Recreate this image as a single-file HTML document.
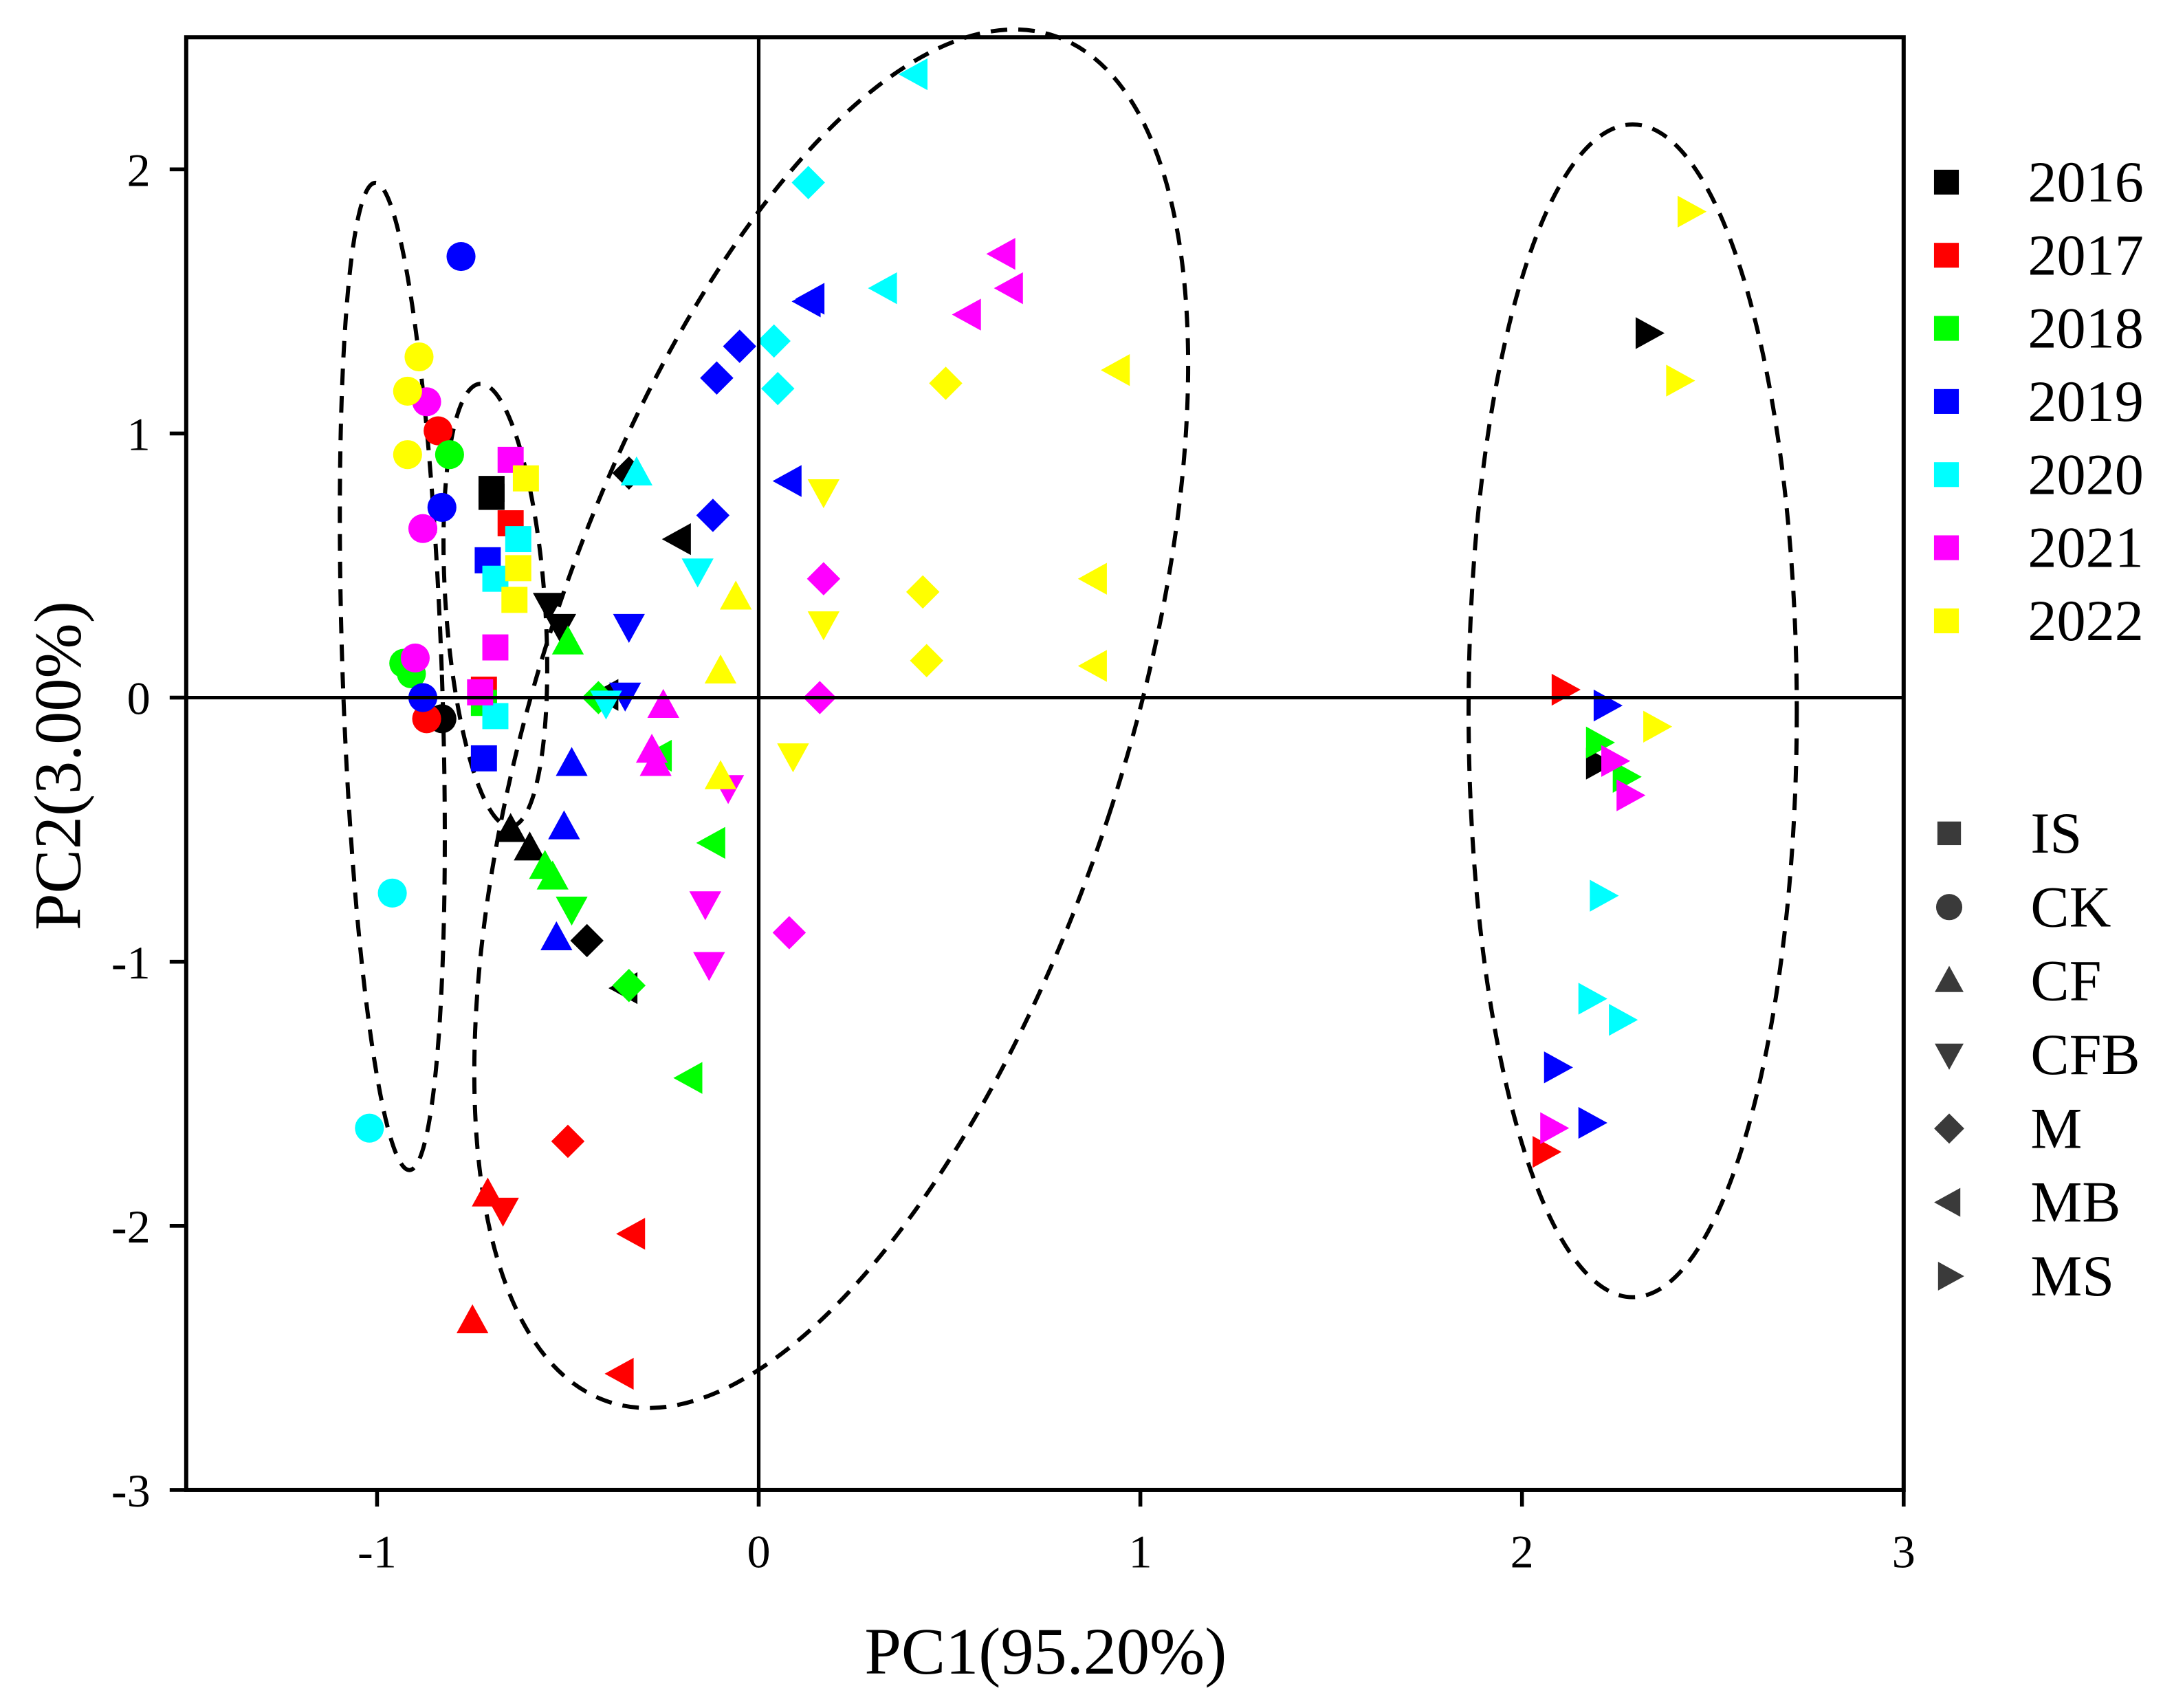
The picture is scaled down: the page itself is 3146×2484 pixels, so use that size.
<!DOCTYPE html>
<html><head><meta charset="utf-8"><style>
html,body{margin:0;padding:0;background:#fff}
svg{display:block}
text{font-family:"Liberation Serif",serif;fill:#000}
</style></head><body>
<svg id="chart" width="3146" height="2484" viewBox="0 0 1568 1238" xmlns="http://www.w3.org/2000/svg">
<g id="ell"></g>
<g id="pts"></g>
<g id="axes"></g>
<g id="legend"></g>
</svg>
<script>
const years = ["2016","2017","2018","2019","2020","2021","2022"];
const yearColors = ["#000000","#ff0000","#00ff00","#0000ff","#00ffff","#ff00ff","#ffff00"];
const treatments = ["IS","CK","CF","CFB","M","MB","MS"];
const xTicks = [-1,0,1,2,3];
const yTicks = [2,1,0,-1,-2,-3];
const pts2016 = [["IS",-0.70,0.79],["IS",-0.70,0.76],["CK",-0.83,-0.08],["CFB",-0.55,0.35],["CFB",-0.52,0.27],["CF",-0.65,-0.5],["CF",-0.60,-0.57],["M",-0.34,0.85],["M",-0.45,-0.92],["MB",-0.21,0.6],["MB",-0.35,-1.1],["MB",-0.40,0.01],["MS",2.33,1.38],["MS",2.20,-0.25]];
const pts2017 = [["IS",-0.65,0.66],["IS",-0.72,0.03],["CK",-0.84,1.01],["CK",-0.87,-0.08],["CF",-0.75,-2.36],["CF",-0.71,-1.88],["CFB",-0.67,-1.94],["M",-0.50,-1.68],["MB",-0.33,-2.03],["MB",-0.36,-2.56],["MS",2.11,0.03],["MS",2.06,-1.72]];
const pts2018 = [["IS",-0.72,-0.02],["CK",-0.81,0.92],["CK",-0.93,0.13],["CK",-0.91,0.09],["CF",-0.50,0.21],["CF",-0.56,-0.64],["CF",-0.54,-0.68],["CFB",-0.49,-0.80],["M",-0.34,-1.09],["M",-0.42,0.0],["MB",-0.18,-1.44],["MB",-0.12,-0.55],["MB",-0.26,-0.22],["MS",2.20,-0.17],["MS",2.27,-0.30]];
const pts2019 = [["CK",-0.78,1.67],["CK",-0.83,0.72],["CK",-0.88,0.0],["IS",-0.71,0.52],["IS",-0.72,-0.23],["CF",-0.49,-0.25],["CF",-0.51,-0.49],["CF",-0.53,-0.91],["CFB",-0.34,0.27],["CFB",-0.35,0.01],["M",-0.12,0.69],["M",-0.05,1.33],["M",-0.11,1.21],["MB",0.14,1.51],["MB",0.13,1.50],["MB",0.08,0.82],["MS",2.22,-0.03],["MS",2.09,-1.40],["MS",2.18,-1.61]];
const pts2020 = [["CK",-0.96,-0.74],["CK",-1.02,-1.63],["IS",-0.63,0.60],["IS",-0.69,0.45],["IS",-0.69,-0.07],["CF",-0.32,0.85],["CFB",-0.16,0.48],["CFB",-0.40,-0.02],["M",0.04,1.35],["M",0.05,1.17],["M",0.13,1.95],["MB",0.33,1.55],["MB",0.41,2.36],["MS",2.21,-0.75],["MS",2.18,-1.14],["MS",2.26,-1.22]];
const pts2021 = [["CK",-0.87,1.12],["CK",-0.88,0.64],["CK",-0.90,0.15],["IS",-0.65,0.90],["IS",-0.69,0.19],["IS",-0.73,0.02],["CF",-0.25,-0.03],["CF",-0.28,-0.20],["CF",-0.27,-0.25],["CFB",-0.14,-0.78],["CFB",-0.13,-1.01],["CFB",-0.08,-0.34],["M",0.17,0.45],["M",0.16,0.0],["M",0.08,-0.89],["MB",0.64,1.68],["MB",0.66,1.55],["MB",0.55,1.45],["MS",2.24,-0.24],["MS",2.28,-0.37],["MS",2.08,-1.63]];
const pts2022 = [["CK",-0.89,1.29],["CK",-0.92,1.16],["CK",-0.92,0.92],["IS",-0.61,0.83],["IS",-0.63,0.49],["IS",-0.64,0.37],["CF",-0.06,0.38],["CF",-0.10,0.10],["CF",-0.10,-0.30],["CFB",0.17,0.78],["CFB",0.17,0.28],["CFB",0.09,-0.22],["M",0.49,1.19],["M",0.43,0.40],["M",0.44,0.14],["MB",0.94,1.24],["MB",0.88,0.45],["MB",0.88,0.12],["MS",2.44,1.84],["MS",2.41,1.20],["MS",2.35,-0.11]];
const allYears = [pts2016,pts2017,pts2018,pts2019,pts2020,pts2021,pts2022];
const ellipses = [[-0.96,0.08,0.13,1.87,-2],[-0.69,0.35,0.13,0.84,-4],[0.19,-0.08,0.77,2.72,18],[2.29,-0.05,0.43,2.22,0]];

const NS="http://www.w3.org/2000/svg";
const L=135,R=1380,T=27,B=1080, xmin=-1.5,xmax=3,ymin=-3,ymax=2.5;
const sx=v=>L+(v-xmin)/(xmax-xmin)*(R-L);
const sy=v=>B-(v-ymin)/(ymax-ymin)*(B-T);
function mk(tag,attrs,parent){const e=document.createElementNS(NS,tag);for(const k in attrs)e.setAttribute(k,attrs[k]);parent.appendChild(e);return e;}
function marker(shape,x,y,fill,parent,s){
  s=s||10.5;let e;
  if(shape==="IS") e=mk("rect",{x:x-s*0.9,y:y-s*0.9,width:s*1.8,height:s*1.8,fill:fill},parent);
  else if(shape==="CK") e=mk("circle",{cx:x,cy:y,r:s,fill:fill},parent);
  else { let p;
    if(shape==="CF") p=[[0,-1.15],[1.1,0.85],[-1.1,0.85]];
    else if(shape==="CFB") p=[[0,1.15],[1.1,-0.85],[-1.1,-0.85]];
    else if(shape==="M") p=[[0,-1.15],[1.15,0],[0,1.15],[-1.15,0]];
    else if(shape==="MB") p=[[-1.15,0],[0.85,-1.1],[0.85,1.1]];
    else p=[[1.15,0],[-0.85,-1.1],[-0.85,1.1]];
    e=mk("polygon",{points:p.map(q=>(x+q[0]*s)+","+(y+q[1]*s)).join(" "),fill:fill},parent);}
  return e;
}
const ellG=document.getElementById("ell");
ellipses.forEach((el,i)=>{
  const cx=sx(el[0]),cy=sy(el[1]),rx=el[2]*(R-L)/(xmax-xmin),ry=el[3]*(B-T)/(ymax-ymin);
  const e=mk("ellipse",{cx:cx,cy:cy,rx:rx,ry:ry,transform:`rotate(${el[4]} ${cx} ${cy})`,fill:"none",stroke:"#000","stroke-width":3,"stroke-dasharray":"12 8"},ellG);
  
  
});
const pg=document.getElementById("pts");
allYears.forEach((arr,yi)=>{arr.forEach(p=>{
  const e=marker(p[0],sx(p[1]),sy(p[2]),yearColors[yi],pg);
  
  
});});
const ax=document.getElementById("axes");
mk("rect",{x:L,y:T,width:R-L,height:B-T,fill:"none",stroke:"#000","stroke-width":3},ax);
mk("line",{x1:sx(0),x2:sx(0),y1:T,y2:B,stroke:"#000","stroke-width":2.6},ax);
mk("line",{x1:L,x2:R,y1:sy(0),y2:sy(0),stroke:"#000","stroke-width":2.6},ax);
xTicks.forEach(v=>{
  mk("line",{x1:sx(v),x2:sx(v),y1:B,y2:B+12,stroke:"#000","stroke-width":2.8},ax);
  const t=mk("text",{x:sx(v),y:B+56,"text-anchor":"middle","font-size":34},ax);t.textContent=v;
  
});
yTicks.forEach(v=>{
  mk("line",{x1:L-12,x2:L,y1:sy(v),y2:sy(v),stroke:"#000","stroke-width":2.8},ax);
  const t=mk("text",{x:L-26,y:sy(v)+12,"text-anchor":"end","font-size":34},ax);t.textContent=v;
  
});
let t=mk("text",{x:758,y:1213,"text-anchor":"middle","font-size":48},ax);t.textContent="PC1(95.20%)";

t=mk("text",{x:0,y:0,"text-anchor":"middle","font-size":48,transform:"translate(58,555) rotate(-90)"},ax);t.textContent="PC2(3.00%)";

const lg=document.getElementById("legend");
years.forEach((y,i)=>{
  const cy=132+i*53;
  const r=mk("rect",{x:1402,y:cy-9,width:18,height:18,fill:yearColors[i]},lg);
  
  
  const tx=mk("text",{x:1470,y:cy+14,"font-size":42},lg);tx.textContent=y;
  
  
});
treatments.forEach((s,i)=>{
  const cy=604+i*53.5;
  const m=marker(s,1413,cy,"#3a3a3a",lg,9.5);
  
  
  const tx=mk("text",{x:1472,y:cy+14,"font-size":42},lg);tx.textContent=s;
  
  
});
</script>
</body></html>
